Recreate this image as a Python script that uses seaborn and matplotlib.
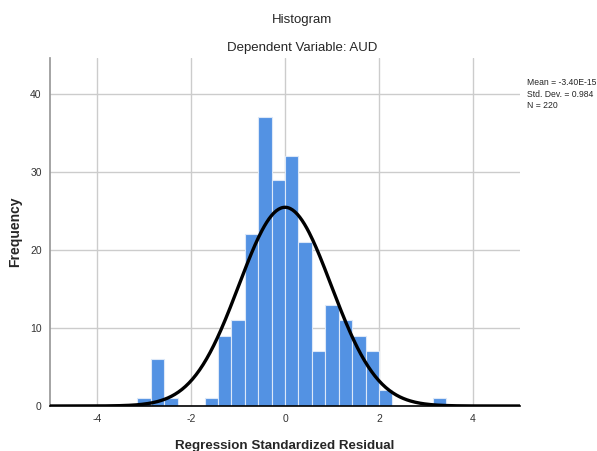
import numpy as np
import pandas as pd
import matplotlib
matplotlib.use("Agg")
import matplotlib.pyplot as plt
import seaborn as sns

# histogram counts (bin width ~0.285, edges start at -11 bins)
bin_width = 0.2855
first_bin = -11
counts = [1, 6, 1, 0, 0, 1, 9, 11, 22, 37, 29, 32, 21, 7, 13, 11, 9, 7, 2, 0, 0, 0, 1]

mean_val = -3.40e-15
std_val = 0.984
n_val = 220

x_ticks = [-4, -2, 0, 2, 4]
y_ticks = [0, 10, 20, 30, 40]

sns.set_theme(style="white")
plt.rcParams["font.family"] = ["Liberation Sans", "DejaVu Sans"]

edges = (first_bin + np.arange(len(counts) + 1)) * bin_width
df = pd.DataFrame({"resid": (edges[:-1] + edges[1:]) / 2, "freq": counts})

fig = plt.figure(figsize=(5.97, 4.51), dpi=100)
ax = fig.add_axes([0.0838, 0.0998, 0.7872, 0.7716])

sns.histplot(data=df, x="resid", weights="freq", binwidth=bin_width,
             binrange=(edges[0], edges[-1]), ax=ax,
             color="#5392e3", alpha=1, edgecolor="#dce8f8", linewidth=0.8, zorder=2)

xs = np.linspace(-5, 5, 400)
ys = n_val * bin_width / (std_val * np.sqrt(2 * np.pi)) * np.exp(-0.5 * ((xs - mean_val) / std_val) ** 2)
sns.lineplot(x=xs, y=ys, ax=ax, color="black", linewidth=2.4, zorder=3)

ax.set_xlim(-5, 5)
ax.set_ylim(0, 44.6)
ax.set_xticks(x_ticks)
ax.set_yticks(y_ticks)
ax.set_xticklabels([str(t) for t in x_ticks], fontsize=7.5, color="#333333")
ax.set_yticklabels([str(t) for t in y_ticks], fontsize=7.5, color="#333333")
ax.tick_params(axis="both", length=0, pad=6)
ax.grid(True, color="#cccccc", linewidth=1, zorder=0)
ax.set_axisbelow(True)
for side in ["top", "right"]:
    ax.spines[side].set_visible(False)
ax.spines["left"].set_color("#999999")
ax.spines["bottom"].set_color("black")
ax.spines["bottom"].set_linewidth(1.2)

ax.set_xlabel("Regression Standardized Residual", fontsize=9.6, fontweight="bold", labelpad=11)
ax.set_ylabel("Frequency", fontsize=10, fontweight="bold", labelpad=6)

fig.text(0.506, 0.956, "Histogram", ha="center", va="center", fontsize=9.5)
fig.text(0.506, 0.894, "Dependent Variable: AUD", ha="center", va="center", fontsize=9.5)

fig.text(0.882, 0.826, "Mean = -3.40E-15\nStd. Dev. = 0.984\nN = 220",
         ha="left", va="top", fontsize=6.2, linespacing=1.3)

fig.savefig("out.png", dpi=100)
